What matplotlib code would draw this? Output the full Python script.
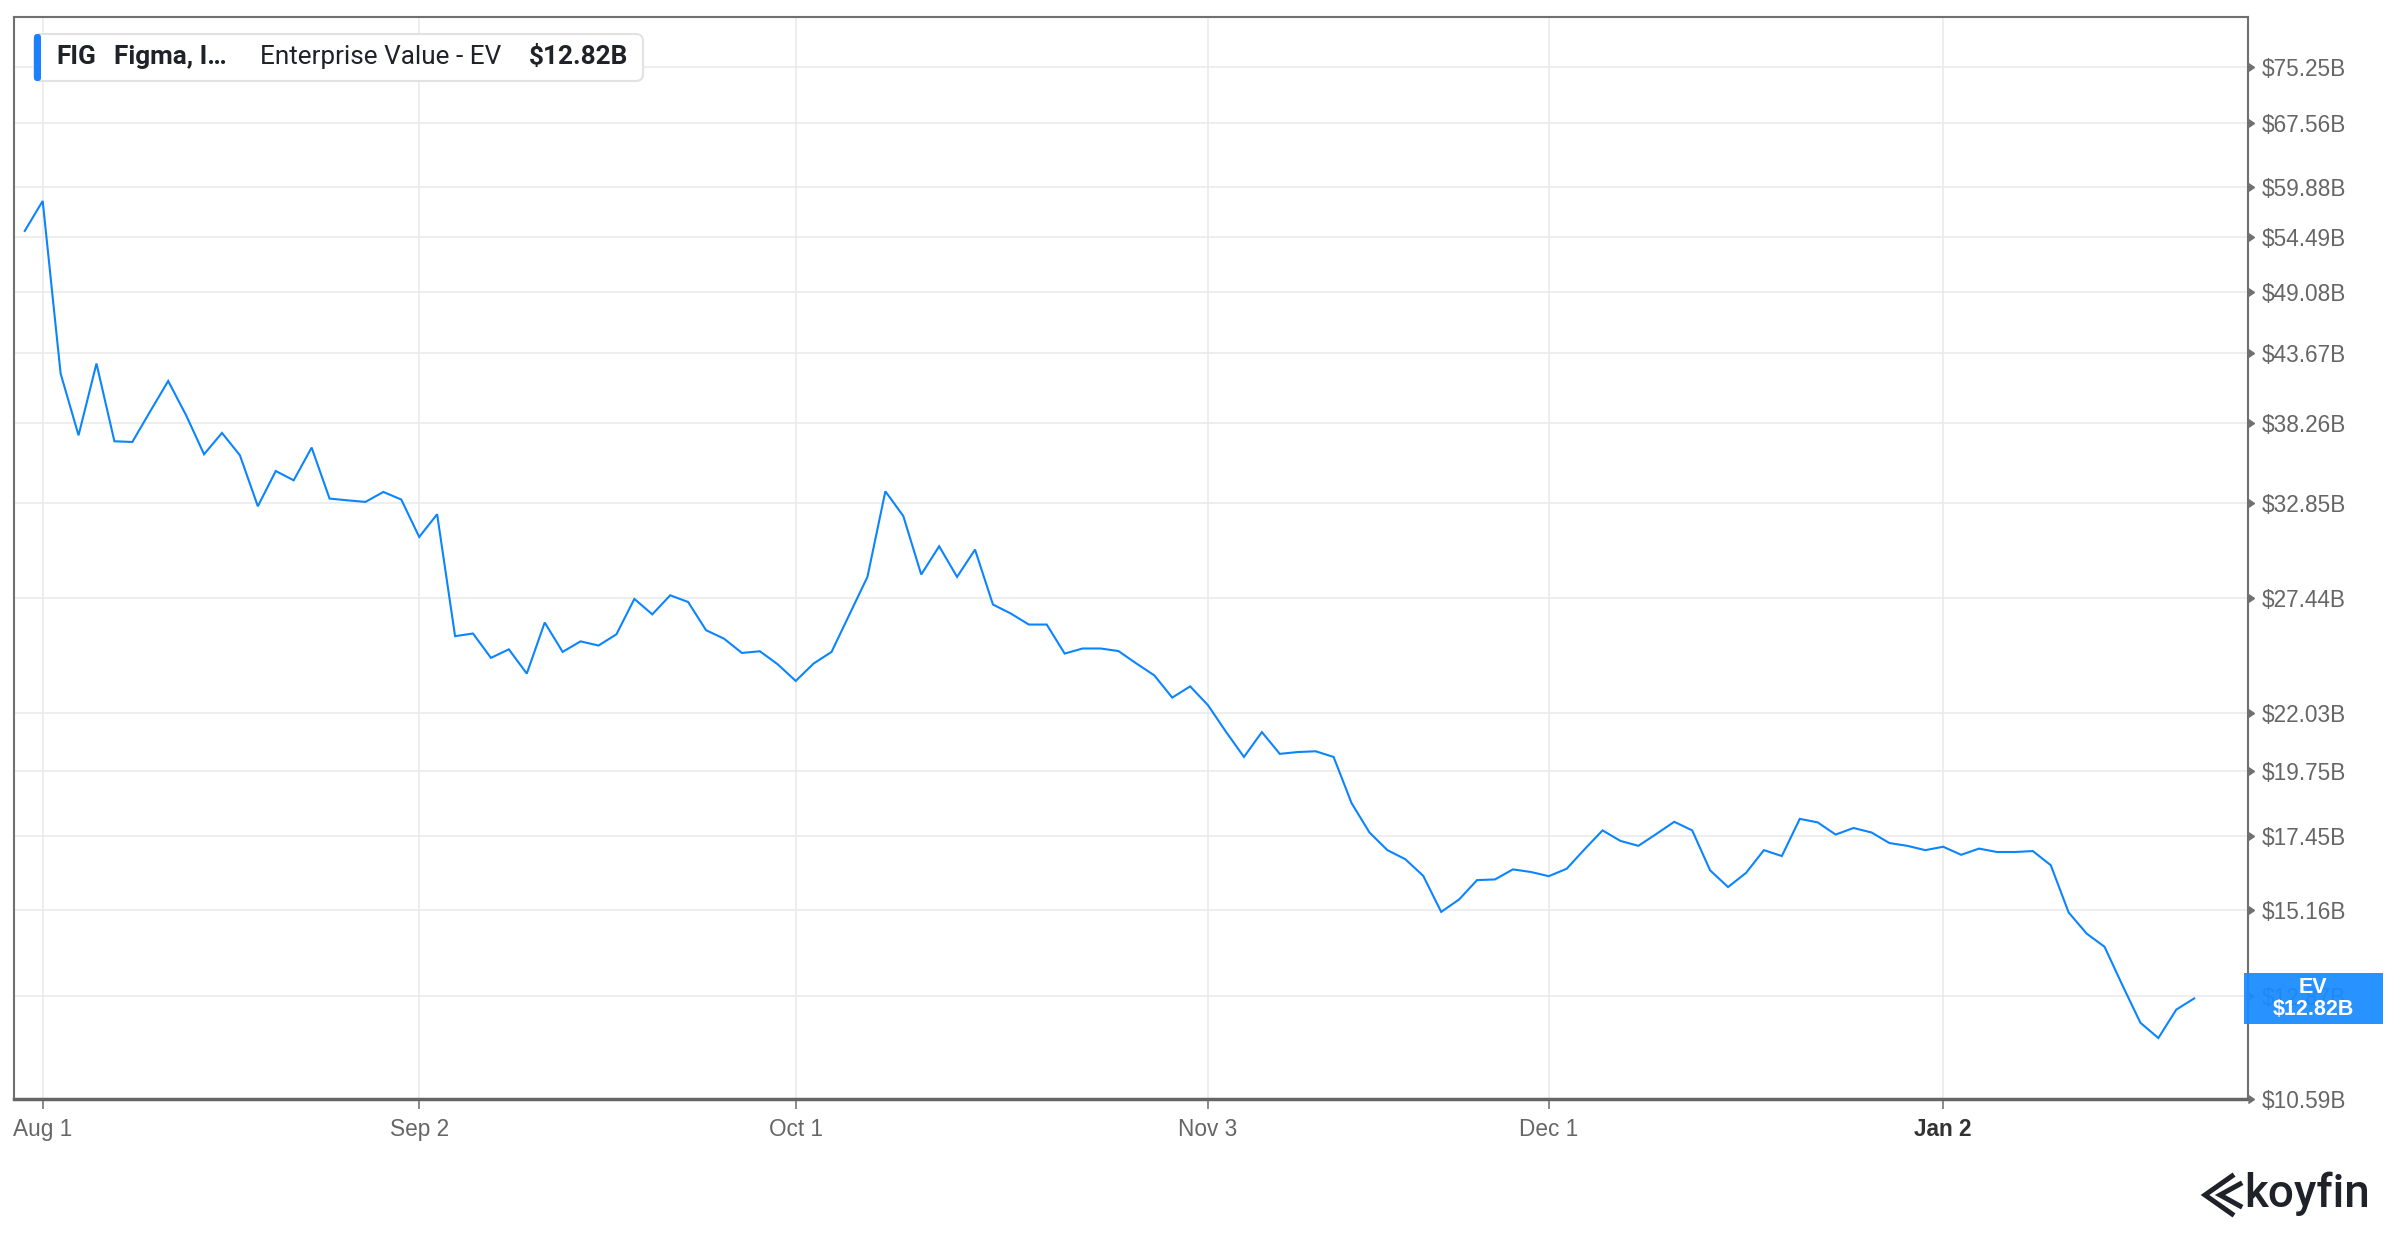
import matplotlib
matplotlib.use("Agg")
import matplotlib.pyplot as plt
import matplotlib.transforms as mtransforms
from matplotlib.patches import FancyBboxPatch, Rectangle
from matplotlib.lines import Line2D
from matplotlib.ticker import FixedLocator, NullLocator
import pandas as pd

# ---------------- data ----------------
ev = [55.08, 58.31, 42.01, 37.36, 42.82, 36.94, 36.89, 39.11, 41.42, 38.81,
      36.04, 37.53, 35.97, 32.65, 34.91, 34.30, 36.50, 33.13, 33.02, 32.92,
      33.55, 33.07, 30.80, 32.16, 25.51, 25.64, 24.48, 24.88, 23.76, 26.18,
      24.76, 25.26, 25.06, 25.60, 27.38, 26.59, 27.57, 27.22, 25.80, 25.39,
      24.71, 24.79, 24.18, 23.43, 24.22, 24.76, 26.59, 28.55, 33.59, 32.05,
      28.68, 30.26, 28.55, 30.07, 27.09, 26.63, 26.08, 26.08, 24.68, 24.92,
      24.92, 24.80, 24.22, 23.68, 22.70, 23.19, 22.37, 21.27, 20.28, 21.26,
      20.40, 20.47, 20.50, 20.28, 18.58, 17.57, 16.99, 16.70, 16.18, 15.11,
      15.47, 16.05, 16.07, 16.38, 16.30, 16.17, 16.40, 17.02, 17.64, 17.29,
      17.13, 17.52, 17.93, 17.64, 16.35, 15.84, 16.27, 16.99, 16.80, 18.03,
      17.91, 17.50, 17.72, 17.57, 17.22, 17.13, 16.99, 17.10, 16.84, 17.04,
      16.93, 16.93, 16.96, 16.51, 15.09, 14.50, 14.14, 13.14, 12.24, 11.89,
      12.55, 12.82]
start_date = "2025-07-31"
market_holidays = ["2025-09-01", "2025-11-27", "2025-12-25", "2026-01-01", "2026-01-19"]
tick_dates = ["2025-08-01", "2025-09-02", "2025-10-01", "2025-11-03", "2025-12-01", "2026-01-02"]
tick_labels = ["Aug 1", "Sep 2", "Oct 1", "Nov 3", "Dec 1", "Jan 2"]
y_ticks = [10.59, 12.87, 15.16, 17.45, 19.75, 22.03, 27.44, 32.85, 38.26,
           43.67, 49.08, 54.49, 59.88, 67.56, 75.25]
y_tick_labels = ["$10.59B", "$12.87B", "$15.16B", "$17.45B", "$19.75B", "$22.03B",
                 "$27.44B", "$32.85B", "$38.26B", "$43.67B", "$49.08B", "$54.49B",
                 "$59.88B", "$67.56B", "$75.25B"]
ticker = "FIG"
company = "Figma, I\u2026"
metric = "Enterprise Value - EV"
short_metric = "EV"
last_label = "$12.82B"

# ---------------- figure ----------------
W, H = 2400, 1240
DPI = 100
plt.rcParams['font.family'] = ['Liberation Sans', 'DejaVu Sans']
fig = plt.figure(figsize=(W / DPI, H / DPI), dpi=DPI, facecolor='white')


def fx(x):
    return x / W


def fy(y):
    return 1 - y / H


L, R, T, B = 14, 2248, 17, 1099
ax = fig.add_axes([fx(L), fy(B), fx(R) - fx(L), fy(T) - fy(B)])

dates = pd.date_range(start_date, periods=len(ev),
                      freq=pd.offsets.CustomBusinessDay(holidays=market_holidays))
xs = list(range(len(ev)))
line_color = "#0a84ff"
ax.plot(xs, ev, color=line_color, lw=1.5, solid_joinstyle='miter', zorder=3)

ax.set_yscale('log')
ax.set_ylim(10.59, 82.7)
ax.set_xlim(-0.6, 124.0)

ax.yaxis.set_major_locator(FixedLocator(y_ticks))
ax.yaxis.set_minor_locator(NullLocator())
ax.set_yticklabels(y_tick_labels)
ax.yaxis.tick_right()
ax.tick_params(axis='y', which='both', length=0, pad=10, labelsize=16.3, labelcolor='#666666')

tick_pos = [dates.get_loc(pd.Timestamp(d)) for d in tick_dates]
ax.set_xticks(tick_pos)
ax.set_xticklabels(tick_labels)
ax.tick_params(axis='x', length=7, width=1.2, color='#777777', pad=7,
               labelsize=16.3, labelcolor='#666666')
xl = ax.get_xticklabels()
xl[-1].set_fontweight('bold')
xl[-1].set_color('#333333')

ax.grid(True, color='#ebebeb', lw=1.2)
ax.set_axisbelow(True)

for s in ['left', 'top', 'right']:
    ax.spines[s].set_color('#707070')
    ax.spines[s].set_linewidth(1.5)
ax.spines['bottom'].set_color('#666666')
ax.spines['bottom'].set_linewidth(2.5)

# caret tick marks on the right axis
blend = mtransforms.blended_transform_factory(ax.transAxes, ax.transData)
ax.plot([1.0] * len(y_ticks), y_ticks, ls='none', marker=9, ms=6,
        color='#707070', transform=blend, clip_on=False, zorder=4)

# ---------------- last value box ----------------
ident = mtransforms.IdentityTransform()
yd = ax.transData.transform((0, ev[-1]))[1]
fig.add_artist(Rectangle((2244, yd - 25.5), 139, 51, transform=ident,
                         facecolor='#1a8cff', edgecolor='none', alpha=0.94, zorder=5))
fig.text(2313 / W, (yd + 11) / H, short_metric, color='white', fontsize=15.5,
         fontweight='bold', ha='center', va='center', zorder=6)
fig.text(2313 / W, (yd - 11) / H, last_label, color='white', fontsize=15.5,
         fontweight='bold', ha='center', va='center', zorder=6)

# ---------------- legend ----------------
fig.add_artist(FancyBboxPatch((34, H - 81), 609, 47, transform=ident,
                              boxstyle='round,pad=0,rounding_size=7',
                              facecolor='white', edgecolor='#e2e2e2', lw=1.5, zorder=5))
fig.add_artist(FancyBboxPatch((34, H - 81), 7, 47, transform=ident,
                              boxstyle='round,pad=0,rounding_size=3',
                              facecolor='#1a80ff', edgecolor='none', zorder=6))
lg_font = ['Roboto', 'DejaVu Sans']
ly = fy(57)
fig.text(fx(56), ly, ticker, family=lg_font, fontsize=18.8, fontweight='bold',
         color='#1f2329', va='center', ha='left', zorder=7)
fig.text(fx(114), ly, company, family=lg_font, fontsize=18.8, fontweight='bold',
         color='#1f2329', va='center', ha='left', zorder=7)
fig.text(fx(260), ly, metric, family=lg_font, fontsize=18.8,
         color='#1f2329', va='center', ha='left', zorder=7)
fig.text(fx(529), ly, last_label, family=lg_font, fontsize=18.8, fontweight='bold',
         color='#1f2329', va='center', ha='left', zorder=7)

# ---------------- koyfin logo ----------------
logo_c = '#1f2329'
fig.add_artist(Line2D([2232, 2205, 2232], [H - 1176, H - 1195, H - 1214],
                      transform=ident, color=logo_c, lw=3.6, solid_joinstyle='miter'))
fig.add_artist(Line2D([2240, 2220, 2240], [H - 1184, H - 1195, H - 1206],
                      transform=ident, color=logo_c, lw=3.6, solid_joinstyle='miter'))
fig.text(fx(2244), fy(1194), "koyfin", family=['Roboto', 'DejaVu Sans'], fontsize=33,
         fontweight='medium', color=logo_c, va='center', ha='left')

fig.savefig('out.png', dpi=DPI, facecolor='white')
